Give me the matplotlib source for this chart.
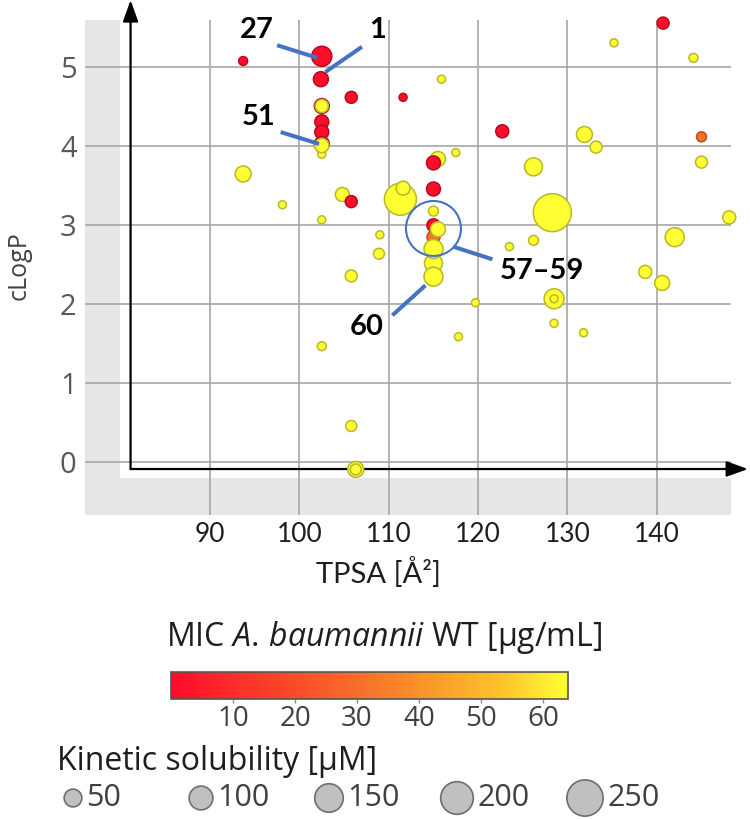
import numpy as np
import matplotlib
matplotlib.use("Agg")
import matplotlib.pyplot as plt
from matplotlib.colors import LinearSegmentedColormap, Normalize
from matplotlib.patches import Rectangle

plt.rcParams['font.family'] = ['Lato', 'DejaVu Sans']
plt.rcParams['mathtext.fontset'] = 'custom'
plt.rcParams['mathtext.rm'] = 'Open Sans'
plt.rcParams['mathtext.it'] = 'Open Sans:italic'
OPEN = ["Open Sans", "DejaVu Sans"]

# ==== data ====
tpsa = [93.7, 102.5, 102.4, 105.8, 111.6, 102.5, 102.5, 102.5, 102.5, 102.5,
        102.5, 102.5, 93.7, 104.8, 105.8, 98.1, 102.5, 111.3, 111.6, 109.0,
        115.9, 122.7, 135.2, 140.7, 144.1, 131.9, 133.2, 145.0, 145.0, 126.2,
        128.3, 148.1, 142.0, 115.5, 115.0, 117.5, 115.0, 115.0, 126.2, 123.5,
        115.0, 115.0, 115.5, 115.0, 115.0, 115.0, 108.9, 105.8, 119.7, 117.8,
        102.5, 138.7, 140.6, 128.5, 128.5, 128.5, 131.8, 105.8, 106.3, 106.3]
clogp = [5.07, 5.13, 4.84, 4.61, 4.61, 4.30, 4.17, 4.50, 4.50, 4.02,
         3.89, 4.00, 3.64, 3.38, 3.29, 3.25, 3.06, 3.32, 3.46, 2.87,
         4.84, 4.18, 5.30, 5.55, 5.11, 4.14, 3.98, 4.11, 3.79, 3.73,
         3.15, 3.09, 2.84, 3.83, 3.78, 3.91, 3.45, 3.17, 2.80, 2.72,
         2.84, 2.99, 2.94, 2.51, 2.69, 2.34, 2.63, 2.35, 2.01, 1.58,
         1.46, 2.40, 2.26, 2.06, 2.06, 1.75, 1.63, 0.45, -0.10, -0.10]
mic = [1, 1, 1, 1, 1, 1, 1, 1, 64, 1,
       64, 64, 64, 64, 1, 64, 64, 64, 64, 64,
       64, 1, 64, 1, 64, 64, 64, 30, 64, 64,
       64, 64, 64, 64, 1, 64, 1, 64, 64, 64,
       32, 1, 64, 64, 64, 64, 64, 64, 64, 64,
       64, 64, 64, 64, 64, 64, 64, 64, 64, 64]
solubility = [3, 67, 32, 16, 0, 26, 26, 32, 22, 32,
              0, 28, 38, 26, 16, 0, 0, 192, 26, 0,
              0, 21, 0, 16, 3, 38, 16, 7, 16, 52,
              276, 21, 59, 32, 26, 0, 26, 7, 7, 0,
              21, 21, 32, 52, 59, 59, 11, 16, 0, 0,
              3, 21, 32, 67, 0, 0, 0, 11, 38, 11]

cbar_ticks = [10, 20, 30, 40, 50, 60]
legend_sizes = [50, 100, 150, 200, 250]

# callouts: label, text position, line start, line end
callouts = [
    ("27", (95.2, 5.46), (97.5, 5.27), (102.0, 5.11)),
    ("1", (108.7, 5.46), (107.0, 5.25), (102.9, 4.93)),
    ("51", (95.4, 4.36), (97.9, 4.17), (102.2, 4.02)),
    ("60", (107.5, 1.70), (110.4, 1.85), (114.1, 2.23)),
    ("57\u201359", (127.1, 2.41), (121.6, 2.56), (117.2, 2.72)),
]
circle_center = (115.0, 2.95)

cmap = LinearSegmentedColormap.from_list(
    "mic", ["#ff0a2b", "#fd2f2a", "#fa4f2a", "#f8752a", "#f99c2a", "#fdc22b", "#ffff33"])
norm = Normalize(0, 64)


def marker_area(sol):
    d_px = np.sqrt(5 * np.asarray(sol, dtype=float) + 64)
    return (d_px * 0.72) ** 2


fig = plt.figure(figsize=(7.5, 8.19), dpi=100)
ax = fig.add_axes([85 / 750, 1 - 515 / 819, 646 / 750, 495 / 819])
ax.set_xlim(76.0, 148.3)
ax.set_ylim(-0.677, 5.589)
ax.set_facecolor("#e6e6e6")
ax.add_patch(Rectangle((79.9, -0.209), 80, 10, facecolor="white", edgecolor="none", zorder=0.1))
ax.set_axisbelow(True)
ax.grid(True, color="#a6a6a6", lw=1.2)
for s in ax.spines.values():
    s.set_visible(False)
ax.set_xticks([90, 100, 110, 120, 130, 140])
ax.set_yticks([0, 1, 2, 3, 4, 5])
ax.tick_params(length=0)
ax.tick_params(axis="x", labelsize=19, labelcolor="#1e1e1e", pad=5)
ax.tick_params(axis="y", labelsize=21, labelcolor="#595959", pad=6)
for lab in ax.get_yticklabels():
    lab.set_family(OPEN)

ax.set_xlabel("TPSA [Å²]", fontsize=21, color="#1e1e1e")
ax.xaxis.set_label_coords(0.455, -0.085)
fig.text(19 / 750, 1 - 266 / 819, "cLogP", rotation=90, fontsize=18,
         color="#404040", family=OPEN, ha="center", va="center")

# axis arrows
arrow = dict(arrowstyle="-|>,head_length=1.0,head_width=0.36", color="black", lw=1.6,
             mutation_scale=13, shrinkA=0, shrinkB=0)
ax.annotate("", xy=(81.1, 5.84), xytext=(81.1, -0.095), arrowprops=arrow,
            annotation_clip=False, zorder=1.5)
ax.annotate("", xy=(150.2, -0.095), xytext=(81.1, -0.095), arrowprops=arrow,
            annotation_clip=False, zorder=1.5)

# points
fill = cmap(norm(mic))
edge = fill.copy()
edge[:, :3] *= 0.72
ax.scatter(tpsa, clogp, s=marker_area(solubility), c=fill, edgecolors=edge,
           linewidths=1.1, zorder=3, clip_on=False)

# callouts
blue = "#4472c4"
for label, tpos, p0, p1 in callouts:
    ax.plot([p0[0], p1[0]], [p0[1], p1[1]], color=blue, lw=2.9,
            solid_capstyle="butt", zorder=4, clip_on=False)
    ax.text(tpos[0], tpos[1], label, fontsize=21, fontweight="bold",
            ha="center", va="center", color="black", zorder=5)
ax.scatter([circle_center[0]], [circle_center[1]], s=(55 * 0.72) ** 2,
           facecolors="none", edgecolors=blue, linewidths=1.5, zorder=4)

# colour bar
cax = fig.add_axes([171 / 750, 1 - 699 / 819, 397 / 750, 27 / 819])
sm = matplotlib.cm.ScalarMappable(norm=norm, cmap=cmap)
cb = fig.colorbar(sm, cax=cax, orientation="horizontal")
cb.set_ticks(cbar_ticks)
cb.outline.set_edgecolor("#555555")
cb.outline.set_linewidth(1.2)
cax.tick_params(length=3, width=1, color="#888888", labelsize=20,
                labelcolor="#404040", pad=1)
for lab in cax.get_xticklabels():
    lab.set_family(OPEN)
fig.text(384 / 750, 1 - 637 / 819, r"MIC $\mathit{A.\,baumannii}$ WT [µg/mL]",
         fontsize=23, ha="center", va="center", color="#1e1e1e", family=OPEN)

# size legend
fig.text(57 / 750, 1 - 762 / 819, "Kinetic solubility [µM]", fontsize=23,
         ha="left", va="center", color="#1e1e1e", family=OPEN)
lax = fig.add_axes([0, 0, 1, 1])
lax.set_xlim(0, 750)
lax.set_ylim(819, 0)
lax.axis("off")
lx = 73 + 128 * np.arange(len(legend_sizes))
lax.scatter(lx, [798] * len(legend_sizes), s=marker_area(legend_sizes),
            c="#c0c0c0", edgecolors="#6e6e6e", linewidths=1.2)
d_leg = np.sqrt(5 * np.asarray(legend_sizes) + 64)
for x, d, v in zip(lx, d_leg, legend_sizes):
    lax.text(x + d / 2 + 4, 798, str(v), fontsize=22, ha="left", va="center",
             color="#404040", family=OPEN)

fig.savefig("out.png", dpi=100)
